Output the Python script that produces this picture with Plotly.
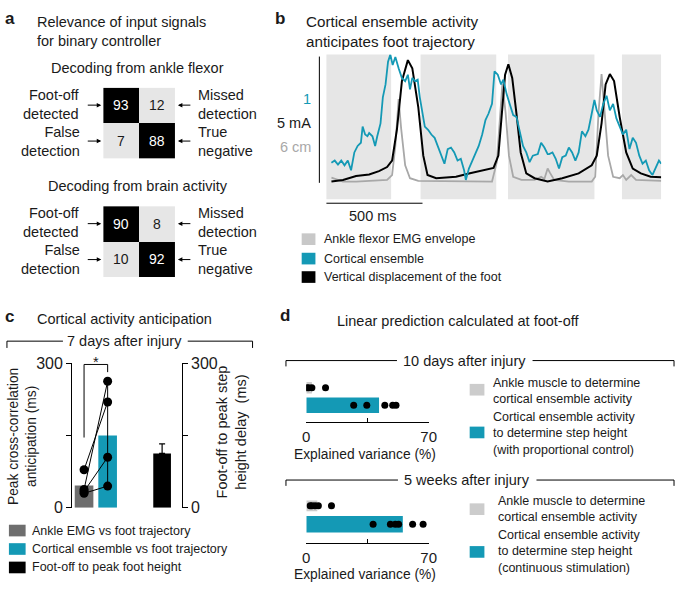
import plotly.graph_objects as go

# ---------------- data ----------------
# panel a: confusion matrices (rows: foot-off / no foot-off ; cols: detected / not)
ankle_matrix = [[93, 12], [7, 88]]
brain_matrix = [[90, 8], [10, 92]]

# panel b: time series (ms, normalized amplitude 0-100)
stance_start = [0, 490, 944, 1536]
stance_end = [337, 883, 1393, 1740]

foot_t = [27, 87, 155, 223, 274, 316, 342, 367, 393, 424, 447, 478, 504, 526, 571, 674, 741, 810, 869,
          894, 912, 929, 946, 966, 988, 1010, 1039, 1082, 1150, 1226, 1311, 1379, 1405, 1430, 1451,
          1473, 1495, 1524, 1558, 1592, 1634, 1685, 1740]
foot_v = [12.3, 13.4, 16.1, 17.2, 19.5, 22.3, 26.8, 48.1, 81.7, 96.2, 90.6, 63.8, 30.2, 16.8, 14.6,
          15.6, 17.9, 20.1, 21.7, 30.2, 59.3, 86.1, 93.3, 83.9, 59.3, 32.4, 17.9, 14.6, 12.3, 14.6,
          17.9, 23.5, 30.2, 52.5, 79.4, 86.6, 81.7, 57.0, 32.4, 21.3, 17.9, 15.6, 15.2]

emg_t = [27, 87, 155, 240, 316, 342, 359, 376, 389, 410, 435, 478, 571, 740, 861, 886, 903, 915, 932,
         949, 971, 1014, 1082, 1116, 1133, 1150, 1163, 1184, 1260, 1379, 1397, 1414, 1430, 1448, 1464,
         1490, 1524, 1541, 1558, 1584, 1609, 1740]
emg_v = [15.0, 12.3, 12.3, 12.8, 13.4, 16.8, 36.9, 69.3, 49.0, 23.5, 14.6, 12.8, 12.8, 12.3, 12.3,
         25.7, 59.3, 79.9, 59.3, 30.2, 15.6, 13.4, 13.4, 15.6, 14.1, 21.3, 18.1, 13.4, 12.3, 12.3,
         15.6, 59.3, 86.6, 59.3, 30.2, 15.6, 14.6, 16.8, 13.4, 16.8, 13.4, 12.8]

cortex_t = [27, 44, 61, 78, 95, 112, 129, 146, 163, 180, 189, 202, 214, 223, 240, 254, 265, 282, 294,
            308, 321, 333, 345, 359, 376, 393, 410, 424, 435, 447, 461, 475, 486, 495, 512, 529, 546,
            563, 580, 597, 614, 631, 648, 665, 682, 699, 716, 725, 741, 759, 776, 792, 810, 827, 843,
            861, 874, 891, 908, 920, 937, 954, 971, 988, 1005, 1022, 1039, 1056, 1073, 1099, 1116,
            1133, 1150, 1158, 1175, 1192, 1209, 1226, 1244, 1260, 1277, 1294, 1311, 1328, 1346, 1362,
            1379, 1393, 1405, 1422, 1439, 1456, 1473, 1490, 1507, 1524, 1541, 1558, 1575, 1592, 1609,
            1626, 1643, 1660, 1677, 1694, 1711, 1728, 1740]
cortex_v = [25.3, 26.8, 24.0, 26.8, 23.5, 26.8, 20.1, 32.4, 36.9, 39.1, 50.3, 44.8, 43.6, 45.8, 43.6,
            36.9, 43.6, 52.5, 70.5, 79.4, 95.1, 100.0, 92.8, 98.4, 90.6, 83.9, 81.7, 86.1, 76.0,
            83.9, 81.7, 82.7, 70.5, 63.8, 50.3, 48.1, 44.8, 42.5, 36.9, 30.2, 24.6, 34.7, 35.8,
            32.4, 26.8, 28.0, 20.1, 13.4, 21.3, 26.8, 32.4, 36.9, 44.8, 54.8, 59.3, 66.0, 88.4,
            86.1, 79.4, 82.7, 72.7, 66.0, 58.2, 57.0, 45.8, 36.9, 32.4, 25.7, 30.2, 31.3, 39.1,
            35.8, 31.3, 31.3, 32.4, 28.0, 21.3, 29.1, 30.2, 35.8, 32.4, 26.8, 32.4, 47.0, 43.6,
            48.1, 59.3, 68.7, 61.5, 57.0, 66.0, 71.6, 61.5, 66.0, 55.9, 50.3, 44.8, 48.1, 34.7,
            42.5, 39.1, 30.2, 24.6, 26.8, 20.1, 16.8, 21.3, 26.8, 24.6]
scale_bar_ms = 500

# panel c: anticipation (ms)
emg_mean = 46
cortex_mean = 150
cortex_err_up = 113
cortex_err_down = 105
emg_points = [79, 38, 34, 30]
cortex_points = [220, 263, 105, 45]
footoff_mean = 113
footoff_err = 20

# panel d: explained variance (%)
d10_ankle_mean = 3.2
d10_cortex_mean = 41.6
d10_ankle_pts = [0.2, 1.3, 3.2, 11.0]
d10_cortex_pts = [27.1, 34.6, 44.9, 49.4, 51.3]
w5_ankle_mean = 6.3
w5_cortex_mean = 55.2
w5_ankle_pts = [2.2, 3.2, 5.0, 6.9, 14.4]
w5_cortex_pts = [38.2, 48.1, 50.9, 52.8, 60.8, 66.8]

# ---------------- style ----------------
W, H = 683, 592
FONT = "Liberation Sans, Arial, Helvetica, sans-serif"
INK = "#1a1a1a"
TEAL = "#1499b5"
SHADE = "#e6e6e6"
EMG_GRAY = "#a8a8a8"
DARK_GRAY = "#6e6e6e"
LIGHT_BAR = "#cccccc"
FS = 14.5      # main text
FL = 12.5      # legend text
FT = 16        # tick labels


def px(x):
    return x / W


def py(y):
    return 1 - y / H


fig = go.Figure()
shapes = []


def T(text, x, y, size=FS, color=INK, xanchor="left", yanchor="middle", angle=0):
    fig.add_annotation(text=text, x=px(x), y=py(y), xref="paper", yref="paper", showarrow=False,
                       xanchor=xanchor, yanchor=yanchor, align=xanchor if xanchor != "center" else "center",
                       textangle=angle, font=dict(size=size, color=color, family=FONT), borderpad=0)


def line(x0, y0, x1, y1, color="black", width=1):
    shapes.append(dict(type="line", xref="paper", yref="paper", x0=px(x0), y0=py(y0), x1=px(x1), y1=py(y1),
                       line=dict(color=color, width=width)))


def rect(x0, y0, x1, y1, color):
    shapes.append(dict(type="rect", xref="paper", yref="paper", x0=px(x0), y0=py(y0), x1=px(x1), y1=py(y1),
                       line=dict(width=0), fillcolor=color))


def arrow(xh, y, dx):
    fig.add_annotation(text="", x=px(xh), y=py(y), xref="paper", yref="paper", showarrow=True,
                       ax=dx, ay=0, arrowhead=2, arrowsize=0.9, arrowwidth=1, arrowcolor="black")


# ---------------- panel a ----------------
cs = [[0, SHADE], [0.5, SHADE], [0.5, "black"], [1, "black"]]
for k, (mat, top) in enumerate([(ankle_matrix, 82), (brain_matrix, 204)]):
    xa = "x" if k == 0 else "x2"
    ya = "y" if k == 0 else "y2"
    fig.add_trace(go.Heatmap(z=mat, x=[0, 1], y=[0, 1], colorscale=cs, zmin=0, zmax=100, showscale=False,
                             xaxis=xa, yaxis=ya, hoverinfo="skip"))
    for r in range(2):
        for c in range(2):
            v = mat[r][c]
            fig.add_annotation(text=str(v), x=c, y=r, xref=xa, yref=ya, showarrow=False,
                               font=dict(size=14, family=FONT, color="white" if v > 50 else INK))
    T("Foot-off<br>detected", 78, top + 17, xanchor="right")
    T("False<br>detection", 78, top + 55, xanchor="right")
    T("Missed<br>detection", 196, top + 17)
    T("True<br>negative", 196, top + 55)
    arrow(99, top + 18, -15)
    arrow(99, top + 55, -15)
    arrow(177, top + 18, 14)
    arrow(177, top + 55, 14)

T("<b>a</b>", 0, 11, size=17)
T("Relevance of input signals<br>for binary controller", 33, 24)
T("Decoding from ankle flexor", 136, 62, xanchor="center")
T("Decoding from brain activity", 136, 183, xanchor="center")

# ---------------- panel b ----------------
for s0, s1 in zip(stance_start, stance_end):
    shapes.append(dict(type="rect", xref="x3", yref="paper", x0=s0, x1=s1, y0=py(197), y1=py(48),
                       fillcolor=SHADE, line=dict(width=0), layer="below"))
fig.add_trace(go.Scatter(x=emg_t, y=emg_v, mode="lines", line=dict(color=EMG_GRAY, width=1.8),
                         xaxis="x3", yaxis="y3", hoverinfo="skip"))
fig.add_trace(go.Scatter(x=foot_t, y=foot_v, mode="lines", line=dict(color="black", width=2),
                         xaxis="x3", yaxis="y3", hoverinfo="skip"))
fig.add_trace(go.Scatter(x=cortex_t, y=cortex_v, mode="lines", line=dict(color=TEAL, width=1.8),
                         xaxis="x3", yaxis="y3", hoverinfo="skip"))
line(321, 50, 321, 180)
shapes.append(dict(type="line", xref="x3", yref="paper", x0=0, x1=scale_bar_ms, y0=py(201), y1=py(201),
                   line=dict(color="black", width=1)))
T("500 ms", 376, 214, xanchor="center")
T("1", 313, 94, color=TEAL, xanchor="right")
T("5 mA", 313, 118, xanchor="right")
T("6 cm", 313, 143, color=EMG_GRAY, xanchor="right")
T("<b>b</b>", 275, 11, size=17)
T("Cortical ensemble activity<br>anticipates foot trajectory", 306, 24.5, size=15.2)
for yy, col, lab in [(238, "#c8c8c8", "Ankle flexor EMG envelope"), (258, TEAL, "Cortical ensemble"),
                     (277, "black", "Vertical displacement of the foot")]:
    rect(303, yy - 6, 317, yy + 6, col)
    T(lab, 325, yy, size=FL)

# ---------------- panel c ----------------
fig.add_trace(go.Bar(x=[0], y=[emg_mean], width=0.79, marker=dict(color=DARK_GRAY, line=dict(width=0)),
                     xaxis="x4", yaxis="y4", hoverinfo="skip"))
fig.add_trace(go.Bar(x=[1], y=[cortex_mean], width=0.79, marker=dict(color=TEAL, line=dict(width=0)),
                     error_y=dict(type="data", symmetric=False, array=[cortex_err_up],
                                  arrayminus=[cortex_err_down], width=0, thickness=1, color="black"),
                     xaxis="x4", yaxis="y4", hoverinfo="skip"))
fig.add_trace(go.Bar(x=[3.31], y=[footoff_mean], width=0.75, marker=dict(color="black", line=dict(width=0)),
                     error_y=dict(type="data", symmetric=False, array=[footoff_err], arrayminus=[0],
                                  width=3, thickness=1.2, color="black"),
                     xaxis="x4", yaxis="y5", hoverinfo="skip"))
px_, py_ = [], []
for g, c in zip(emg_points, cortex_points):
    px_ += [0, 1, None]
    py_ += [g, c, None]
fig.add_trace(go.Scatter(x=px_, y=py_, mode="lines+markers", line=dict(color="black", width=1),
                         marker=dict(color="black", size=9), xaxis="x4", yaxis="y4", hoverinfo="skip"))
# significance bracket
shapes.append(dict(type="path", xref="x4", yref="y4", path="M 0,146 L 0,298 L 1,298 L 1,282",
                   line=dict(color="black", width=1)))
T("*", 94, 364, xanchor="center")
T("<b>c</b>", 0, 318, size=17)
T("Cortical activity anticipation", 33, 320)
line(3, 343, 60, 343)
line(187, 343, 253, 343)
line(3, 343, 3, 350)
line(253, 343, 253, 350)
T("7 days after injury", 123, 343, xanchor="center")
T("Peak cross-correlation<br>anticipation (ms)", 19, 441, xanchor="center", angle=-90, size=13.8)
T("Foot-off to peak step<br>height delay  (ms)", 232, 436, xanchor="center", angle=-90)
for yy, col, lab in [(538, DARK_GRAY, "Ankle EMG vs foot trajectory"),
                     (557, TEAL, "Cortical ensemble vs foot trajectory"),
                     (576, "black", "Foot-off to peak foot height")]:
    rect(5, yy - 6, 22, yy + 6, col)
    T(lab, 27, yy, size=FL)

# ---------------- panel d ----------------
for xa, ya, am, cm, apts, cpts, wa, wc in [
        ("x5", "y6", d10_ankle_mean, d10_cortex_mean, d10_ankle_pts, d10_cortex_pts, 0.67, 0.89),
        ("x6", "y7", w5_ankle_mean, w5_cortex_mean, w5_ankle_pts, w5_cortex_pts, 0.58, 0.9)]:
    fig.add_trace(go.Bar(x=[am], y=[1], orientation="h", width=wa, marker=dict(color=LIGHT_BAR, line=dict(width=0)),
                         xaxis=xa, yaxis=ya, hoverinfo="skip"))
    fig.add_trace(go.Bar(x=[cm], y=[0], orientation="h", width=wc, marker=dict(color=TEAL, line=dict(width=0)),
                         xaxis=xa, yaxis=ya, hoverinfo="skip"))
    fig.add_trace(go.Scatter(x=apts + cpts, y=[1] * len(apts) + [0] * len(cpts), mode="markers",
                             marker=dict(color="black", size=7), xaxis=xa, yaxis=ya, hoverinfo="skip"))

T("<b>d</b>", 280, 317, size=17)
T("Linear prediction calculated at foot-off", 463, 322, xanchor="center")
for yb, lab, g0, g1 in [(363, "10 days after injury", 400, 538), (486, "5 weeks after injury", 401, 542)]:
    line(287, yb, g0, yb)
    line(g1, yb, 682, yb)
    line(287, yb, 287, yb + 6)
    line(682, yb, 682, yb + 6)
    T(lab, (g0 + g1) / 2, yb, xanchor="center")
T("Explained variance (%)", 367, 460, xanchor="center", size=13.8)
T("Explained variance (%)", 367, 583, xanchor="center", size=13.8)
rect(474, 387, 489, 399, LIGHT_BAR)
rect(474, 431, 489, 443, TEAL)
T("Ankle muscle to determine<br>cortical ensemble activity", 497, 394.5, size=FL)
T("Cortical ensemble activity<br>to determine step height<br>(with proportional control)", 497, 438, size=FL)
rect(474, 510, 489, 522, LIGHT_BAR)
rect(474, 554, 489, 566, TEAL)
T("Ankle muscle to determine<br>cortical ensemble activity", 502, 516, size=FL)
T("Cortical ensemble activity<br>to determine step height<br>(continuous stimulation)", 502, 559.5, size=FL)

# ---------------- layout ----------------
hid = dict(visible=False, fixedrange=True)
yax_c = dict(range=[0, 300], showline=True, linecolor="black", linewidth=1, ticks="outside", ticklen=5,
             tickcolor="black", tickvals=[0, 150, 300], ticktext=["0", "", "300"], showgrid=False,
             zeroline=False, tickfont=dict(size=FT, family=FONT, color=INK))
xax_d = dict(range=[0, 70], showline=True, linecolor="black", linewidth=1, ticks="inside", ticklen=4,
             tickcolor="black", tickvals=[0, 35, 70], ticktext=["0", "", "70"], showgrid=False,
             zeroline=False, tickfont=dict(size=15, family=FONT, color=INK), ticklabelstandoff=1)
fig.update_layout(
    width=W, height=H, margin=dict(l=0, r=0, t=0, b=0), paper_bgcolor="white", plot_bgcolor="white",
    showlegend=False, barmode="overlay", font=dict(family=FONT, color=INK),
    xaxis=dict(hid, domain=[px(101), px(174)], range=[-0.5, 1.5], anchor="y"),
    yaxis=dict(hid, domain=[py(155), py(82)], range=[1.5, -0.5], anchor="x"),
    xaxis2=dict(hid, domain=[px(101), px(174)], range=[-0.5, 1.5], anchor="y2"),
    yaxis2=dict(hid, domain=[py(277), py(204)], range=[1.5, -0.5], anchor="x2"),
    xaxis3=dict(hid, domain=[px(328), px(669)], range=[0, 1740], anchor="y3"),
    yaxis3=dict(hid, domain=[py(197), py(48)], range=[0, 100], anchor="x3"),
    xaxis4=dict(hid, domain=[px(69.3), px(181)], range=[-0.508, 4.146], anchor="y4"),
    yaxis4=dict(yax_c, domain=[py(514.5), py(366)], anchor="x4", side="left"),
    yaxis5=dict(yax_c, overlaying="y4", anchor="x4", side="right"),
    xaxis5=dict(xax_d, domain=[px(307.7), px(432.3)], anchor="y6"),
    yaxis6=dict(hid, domain=[py(426), py(378)], range=[-0.944, 1.72], anchor="x5"),
    xaxis6=dict(xax_d, domain=[px(307.7), px(432.3)], anchor="y7"),
    yaxis7=dict(hid, domain=[py(551), py(500)], range=[-1.03, 1.66], anchor="x6"),
    shapes=shapes,
)
fig.write_html("out.html", config={"displayModeBar": False, "staticPlot": True},
               post_script="document.body.style.margin='0px';document.body.style.overflow='hidden';")
